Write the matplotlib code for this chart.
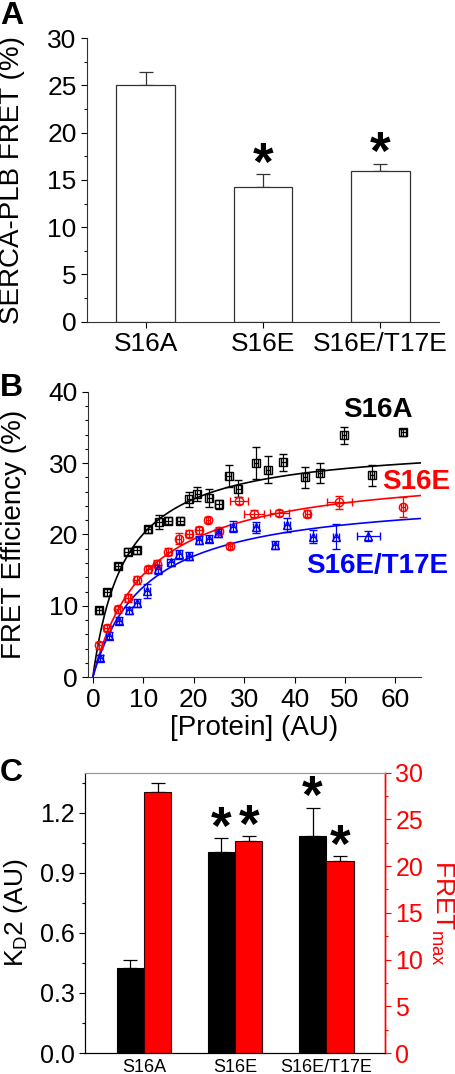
import numpy as np
import matplotlib
matplotlib.use('Agg')
import matplotlib.pyplot as plt
from matplotlib.ticker import MultipleLocator

plt.rcParams['font.family'] = ['Liberation Sans', 'DejaVu Sans']
plt.rcParams['mathtext.fontset'] = 'custom'
plt.rcParams['mathtext.rm'] = 'Liberation Sans'
plt.rcParams['mathtext.it'] = 'Liberation Sans:italic'
plt.rcParams['mathtext.bf'] = 'Liberation Sans:bold'
plt.rcParams['mathtext.default'] = 'regular'

# ---------------- Panel A data ----------------
a_categories = ['S16A', 'S16E', 'S16E/T17E']
a_values = [25.1, 14.3, 15.9]
a_errors = [1.3, 1.3, 0.8]
a_significant = [False, True, True]

# ---------------- Panel B data ----------------
b_s16a_x = [1.3, 2.9, 4.9, 6.9, 8.7, 11.0, 13.1, 15.0, 17.3, 19.1, 20.7, 23.1,
            25.0, 26.9, 28.8, 32.3, 34.7, 37.8, 42.1, 45.0, 49.8, 55.4, 61.5]
b_s16a_y = [9.4, 11.9, 15.6, 17.6, 17.8, 20.7, 21.7, 21.9, 21.9, 24.9, 25.7, 25.1,
            24.2, 28.2, 26.4, 30.0, 29.1, 30.1, 28.0, 28.6, 33.9, 28.3, 34.3]
b_s16a_yerr = [0.5, 0.5, 0.4, 0.5, 0.5, 0.5, 1.0, 0.5, 0.5, 1.0, 1.0, 1.2,
               0.6, 1.6, 1.2, 2.2, 1.9, 1.2, 1.5, 1.4, 1.2, 1.5, 0.5]
b_s16a_xerr = [0.6, 0.6, 0.6, 0.7, 0.7, 0.6, 0.6, 0.7, 0.7, 0.5, 0.5, 0.5,
               0.7, 0.4, 0.5, 0.4, 0.4, 0.4, 0.4, 0.4, 0.4, 0.4, 0.5]

b_s16e_x = [1.3, 2.9, 4.9, 6.9, 8.7, 11.0, 12.7, 15.0, 17.0, 19.1, 21.1, 22.9,
            25.0, 27.2, 28.9, 32.0, 37.0, 42.5, 48.9, 61.5]
b_s16e_y = [4.5, 6.9, 9.5, 11.1, 13.6, 15.1, 15.9, 17.6, 19.4, 20.1, 20.6, 22.0,
            20.5, 18.4, 24.7, 22.9, 23.0, 22.9, 24.5, 23.8]
b_s16e_yerr = [0.5, 0.4, 0.5, 0.5, 0.6, 0.5, 0.5, 0.5, 0.8, 0.5, 0.5, 0.4,
               0.5, 0.4, 0.5, 0.5, 0.4, 0.5, 0.9, 1.4]
b_s16e_xerr = [0.5, 0.6, 0.5, 0.5, 0.5, 0.5, 0.5, 0.5, 0.5, 0.6, 0.6, 0.4,
               0.5, 0.4, 1.8, 2.0, 1.8, 0.5, 2.5, 0.4]

b_dbl_x = [1.5, 3.3, 5.1, 7.1, 8.7, 10.7, 13.0, 15.4, 17.1, 19.0, 21.1, 23.1,
           24.9, 27.8, 32.3, 36.1, 38.5, 43.7, 48.2, 54.6]
b_dbl_y = [2.7, 5.8, 7.9, 9.4, 10.4, 12.1, 15.1, 16.1, 17.2, 17.0, 19.2, 19.4,
           20.2, 21.1, 21.0, 18.5, 21.3, 19.7, 19.7, 19.8]
b_dbl_yerr = [0.4, 0.5, 0.5, 0.5, 0.6, 1.0, 0.6, 0.5, 0.6, 0.6, 0.6, 0.5,
              0.6, 0.8, 0.8, 0.6, 1.0, 0.9, 1.8, 0.7]
b_dbl_xerr = [0.5, 0.6, 0.6, 0.6, 0.6, 0.6, 0.6, 0.6, 0.6, 0.6, 0.6, 0.6,
              0.6, 0.6, 0.6, 0.6, 0.6, 0.6, 0.6, 2.3]

# hyperbolic fit parameters (FRET = Fmax * x / (Kd + x))
fit_fmax = [33.0, 29.6, 25.8]
fit_kd = [6.44, 10.6, 10.4]
b_names = ['S16A', 'S16E', 'S16E/T17E']

# ---------------- Panel C data ----------------
c_categories = ['S16A', 'S16E', 'S16E/T17E']
c_kd2 = [0.427, 1.002, 1.085]
c_kd2_err = [0.035, 0.072, 0.140]
c_kd2_sig = [False, True, True]
c_fretmax = [27.9, 22.7, 20.5]
c_fretmax_err = [0.95, 0.5, 0.55]
c_fretmax_sig = [False, True, True]

RED = '#ff0000'
BLUE = '#0000ff'
STAR_SIZE = 38
STAR_OFFSET = -4

fig = plt.figure(figsize=(4.56, 10.74), dpi=100)

def style_ticks(ax, size):
    ax.tick_params(which='both', direction='out', width=0.8, labelsize=size)
    ax.tick_params(which='major', length=4)
    ax.tick_params(which='minor', length=2.5)

# ================= Panel A =================
axA = fig.add_axes([0.1908, 0.7005, 0.772, 0.2639])
xa = np.arange(1, len(a_categories) + 1)
axA.bar(xa, a_values, width=0.5, color='white', edgecolor='#333333', linewidth=0.9, zorder=2)
axA.errorbar(xa, a_values, yerr=[np.zeros(len(a_errors)), a_errors], fmt='none',
             ecolor='#333333', elinewidth=0.9, capsize=5, capthick=0.9, zorder=1)
for xi, v, e, s in zip(xa, a_values, a_errors, a_significant):
    if s:
        axA.annotate('*', (xi, v + e), xytext=(0, STAR_OFFSET), textcoords='offset points',
                     ha='center', va='baseline', fontsize=STAR_SIZE, fontweight='bold')
axA.set_xlim(0.5, 3.5)
axA.set_ylim(0, 30)
axA.set_xticks(xa)
axA.set_xticklabels(a_categories)
axA.yaxis.set_major_locator(MultipleLocator(5))
axA.yaxis.set_minor_locator(MultipleLocator(2.5))
for sp in ['top', 'right']:
    axA.spines[sp].set_visible(False)
for sp in ['left', 'bottom']:
    axA.spines[sp].set_linewidth(0.8)
    axA.spines[sp].set_color('#333333')
style_ticks(axA, 19)
axA.set_ylabel('SERCA-PLB FRET (%)', fontsize=20)
axA.yaxis.set_label_coords(-0.176, 0.5)

# ================= Panel B =================
axB = fig.add_axes([0.1936, 0.3694, 0.729, 0.2659])
series = [
    (b_s16a_x, b_s16a_y, b_s16a_xerr, b_s16a_yerr, 'black', 's'),
    (b_s16e_x, b_s16e_y, b_s16e_xerr, b_s16e_yerr, RED, 'o'),
    (b_dbl_x, b_dbl_y, b_dbl_xerr, b_dbl_yerr, BLUE, '^'),
]
xfit = np.linspace(0, 65, 400)
for (x, y, xe, ye, c, m), fm, kd in zip(series, fit_fmax, fit_kd):
    axB.errorbar(x, y, xerr=xe, yerr=ye, fmt=m, mfc='none', mec=c, mew=1.0, ms=6,
                 ecolor=c, elinewidth=0.9, capsize=3, capthick=0.9, zorder=3)
    axB.plot(xfit, fm * xfit / (kd + xfit), color=c, lw=1.2, zorder=2)
axB.text(56.5, 37.4, 'S16A', color='black', fontsize=20, fontweight='bold', ha='center', va='center')
axB.text(64.0, 27.3, 'S16E', color=RED, fontsize=20, fontweight='bold', ha='center', va='center', clip_on=False)
axB.text(56.3, 15.6, 'S16E/T17E', color=BLUE, fontsize=20, fontweight='bold', ha='center', va='center', clip_on=False)
axB.set_xlim(-0.9, 65)
axB.set_ylim(0, 40)
axB.xaxis.set_major_locator(MultipleLocator(10))
axB.yaxis.set_major_locator(MultipleLocator(10))
axB.yaxis.set_minor_locator(MultipleLocator(2))
for sp in ['top', 'right']:
    axB.spines[sp].set_visible(False)
for sp in ['left', 'bottom']:
    axB.spines[sp].set_linewidth(0.8)
    axB.spines[sp].set_color('#333333')
style_ticks(axB, 19)
axB.set_ylabel('FRET Efficiency (%)', fontsize=20)
axB.yaxis.set_label_coords(-0.184, 0.5)
axB.set_xlabel('[Protein] (AU)', fontsize=20)
axB.xaxis.set_label_coords(0.5, -0.132)
axB.xaxis.label.set_va('top')

# ================= Panel C =================
axC = fig.add_axes([0.1864, 0.01955, 0.6579, 0.261])
axC2 = axC.twinx()
xc = np.arange(1, len(c_categories) + 1)
w = 0.30
axC.bar(xc - w / 2, c_kd2, width=w, color='black', edgecolor='black', linewidth=0.8, zorder=2)
axC.errorbar(xc - w / 2, c_kd2, yerr=[np.zeros(3), c_kd2_err], fmt='none', ecolor='black',
             elinewidth=0.9, capsize=5, capthick=0.9, zorder=1)
axC2.bar(xc + w / 2, c_fretmax, width=w, color=RED, edgecolor='#330000', linewidth=0.8, zorder=2)
axC2.errorbar(xc + w / 2, c_fretmax, yerr=[np.zeros(3), c_fretmax_err], fmt='none', ecolor='black',
              elinewidth=0.9, capsize=5, capthick=0.9, zorder=1)
for xi, v, e, s in zip(xc - w / 2, c_kd2, c_kd2_err, c_kd2_sig):
    if s:
        axC.annotate('*', (xi, v + e), xytext=(0, STAR_OFFSET), textcoords='offset points',
                     ha='center', va='baseline', fontsize=STAR_SIZE, fontweight='bold')
for xi, v, e, s in zip(xc + w / 2, c_fretmax, c_fretmax_err, c_fretmax_sig):
    if s:
        axC2.annotate('*', (xi, v + e), xytext=(0, STAR_OFFSET), textcoords='offset points',
                      ha='center', va='baseline', fontsize=STAR_SIZE, fontweight='bold')
axC.set_xlim(0.352, 3.645)
axC.set_ylim(0, 1.4)
axC2.set_ylim(0, 30)
axC.set_xticks(xc)
axC.set_xticklabels(c_categories, fontsize=13)
axC.tick_params(axis='x', length=0, pad=4)
axC.yaxis.set_major_locator(MultipleLocator(0.3))
axC.yaxis.set_minor_locator(MultipleLocator(0.15))
axC.yaxis.set_major_formatter(matplotlib.ticker.FormatStrFormatter('%.1f'))
axC2.yaxis.set_major_locator(MultipleLocator(5))
axC2.yaxis.set_minor_locator(MultipleLocator(2.5))
axC.tick_params(axis='y', which='both', direction='out', width=0.8, labelsize=18)
axC.tick_params(axis='y', which='major', length=4)
axC.tick_params(axis='y', which='minor', length=2.5)
axC2.tick_params(axis='y', which='both', direction='out', width=0.8, labelsize=18,
                 colors=RED)
axC2.tick_params(axis='y', which='major', length=4)
axC2.tick_params(axis='y', which='minor', length=2.5)
for ax_ in (axC, axC2):
    ax_.spines['top'].set_color('#999999')
    ax_.spines['top'].set_linewidth(0.8)
    ax_.spines['left'].set_linewidth(0.8)
    ax_.spines['bottom'].set_linewidth(0.8)
    ax_.spines['right'].set_color(RED)
    ax_.spines['right'].set_linewidth(1.0)
axC.set_ylabel('K$_\\mathrm{D}$2 (AU)', fontsize=19)
axC.yaxis.set_label_coords(-0.183, 0.5)
axC2.text(1.148, 0.5, 'FRET$_\\mathrm{max}$', fontsize=19, color=RED, rotation=270,
          ha='left', va='center', transform=axC2.transAxes)

# panel letters
fig.text(0.0, 0.999, 'A', fontsize=23, fontweight='bold', ha='left', va='top')
fig.text(0.0, 0.653, 'B', fontsize=23, fontweight='bold', ha='left', va='top')
fig.text(0.0, 0.294, 'C', fontsize=23, fontweight='bold', ha='left', va='top')

fig.savefig('out.png', dpi=100)
